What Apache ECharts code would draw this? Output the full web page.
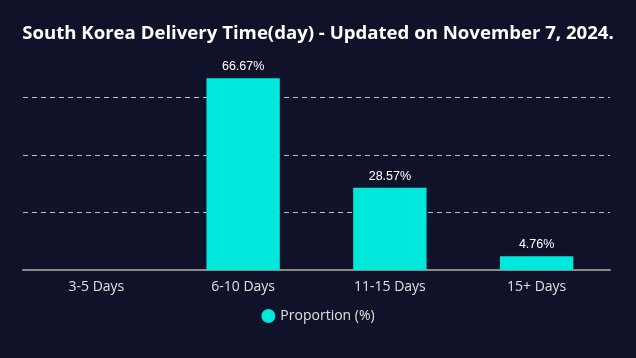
<!DOCTYPE html>
<html>
<head>
<meta charset="utf-8">
<script src="https://cdn.jsdelivr.net/npm/echarts@6/dist/echarts.min.js"></script>
<style>
html,body{margin:0;padding:0;background:#0f1228;}
#chart{width:636px;height:358px;}
</style>
</head>
<body>
<div id="chart"></div>
<script>
var titleText = 'South Korea Delivery Time(day) - Updated on November 7, 2024.';
var categories = ['3-5 Days', '6-10 Days', '11-15 Days', '15+ Days'];
var seriesName = 'Proportion (%)';
var proportions = [0, 66.67, 28.57, 4.76];

var chart = echarts.init(document.getElementById('chart'));
chart.setOption({
  backgroundColor: '#0f1228',
  title: {
    text: titleText,
    left: 'center',
    top: 19,
    textStyle: {color: '#ffffff', fontSize: 18.6, fontWeight: 'bold', fontFamily: 'Open Sans'}
  },
  legend: {
    data: [seriesName],
    bottom: 30,
    left: 'center',
    icon: 'circle',
    itemWidth: 14,
    itemHeight: 14,
    textStyle: {color: '#e0e0e0', fontSize: 14, fontFamily: 'Open Sans'}
  },
  grid: {left: 23, right: 26, top: 40, bottom: 88, containLabel: false},
  xAxis: {
    type: 'category',
    data: categories,
    axisLine: {lineStyle: {color: '#8a8a8a', width: 2}},
    axisTick: {alignWithLabel: true, lineStyle: {color: '#8a8a8a'}},
    axisLabel: {color: '#e0e0e0', fontSize: 14, fontFamily: 'Open Sans', margin: 10}
  },
  yAxis: {
    type: 'value',
    min: 0,
    max: 80,
    interval: 20,
    axisLabel: {show: false},
    axisLine: {show: false},
    axisTick: {show: false},
    splitLine: {show: true, showMaxLine: false, lineStyle: {color: '#c0c0c0', type: [5, 4]}}
  },
  series: [{
    name: seriesName,
    type: 'bar',
    data: proportions,
    barWidth: '50%',
    itemStyle: {color: '#00e8dc'},
    label: {
      show: true,
      position: 'top',
      color: '#ffffff',
      fontSize: 12.5,
      formatter: function (p) { return p.value ? p.value + '%' : ''; }
    }
  }]
});
</script>
</body>
</html>
